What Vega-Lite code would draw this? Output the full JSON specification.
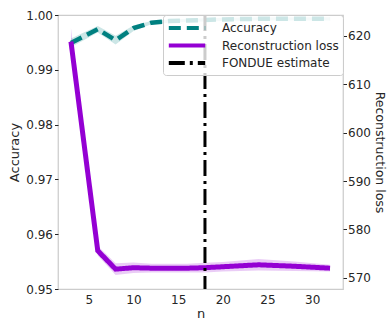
{
  "$schema": "https://vega.github.io/schema/vega-lite/v6.json",
  "width": 285,
  "height": 274,
  "autosize": {"type": "none"},
  "padding": {"left": 58, "top": 15, "right": 46, "bottom": 31},
  "config": {
    "font": "DejaVu Sans",
    "view": {"stroke": "#cccccc", "strokeWidth": 1.25},
    "axis": {
      "domain": false,
      "grid": false,
      "labelFont": "DejaVu Sans",
      "labelFontSize": 12,
      "labelColor": "#262626",
      "titleFont": "DejaVu Sans",
      "titleFontSize": 13,
      "titleFontWeight": "normal",
      "titleColor": "#262626",
      "tickColor": "#262626",
      "tickSize": 3.5,
      "labelPadding": 2
    },
    "legend": {
      "labelFont": "DejaVu Sans",
      "labelFontSize": 12,
      "labelColor": "#262626"
    }
  },
  "datasets": {
    "acc": [
      {"n": 3, "series": "Accuracy", "value": 0.9949, "lo": 0.9941, "hi": 0.9957},
      {"n": 6, "series": "Accuracy", "value": 0.9974, "lo": 0.9968, "hi": 0.9980},
      {"n": 8, "series": "Accuracy", "value": 0.9954, "lo": 0.9946, "hi": 0.9962},
      {"n": 10, "series": "Accuracy", "value": 0.9976, "lo": 0.9971, "hi": 0.9981},
      {"n": 12, "series": "Accuracy", "value": 0.9986, "lo": 0.9983, "hi": 0.9989},
      {"n": 14, "series": "Accuracy", "value": 0.9989, "lo": 0.9986, "hi": 0.9992},
      {"n": 16, "series": "Accuracy", "value": 0.9990, "lo": 0.9987, "hi": 0.9993},
      {"n": 18, "series": "Accuracy", "value": 0.9991, "lo": 0.9988, "hi": 0.9994},
      {"n": 20, "series": "Accuracy", "value": 0.9992, "lo": 0.9989, "hi": 0.9995},
      {"n": 24, "series": "Accuracy", "value": 0.9993, "lo": 0.9990, "hi": 0.9996},
      {"n": 28, "series": "Accuracy", "value": 0.9993, "lo": 0.9990, "hi": 0.9996},
      {"n": 32, "series": "Accuracy", "value": 0.9993, "lo": 0.9990, "hi": 0.9996}
    ],
    "loss": [
      {"n": 3, "series": "Reconstruction loss", "value": 618.8, "lo": 616.0, "hi": 621.6},
      {"n": 6, "series": "Reconstruction loss", "value": 575.6, "lo": 574.6, "hi": 576.6},
      {"n": 8, "series": "Reconstruction loss", "value": 571.8, "lo": 570.6, "hi": 573.0},
      {"n": 10, "series": "Reconstruction loss", "value": 572.1, "lo": 571.0, "hi": 573.2},
      {"n": 12, "series": "Reconstruction loss", "value": 572.0, "lo": 571.1, "hi": 572.9},
      {"n": 14, "series": "Reconstruction loss", "value": 572.0, "lo": 571.1, "hi": 572.9},
      {"n": 16, "series": "Reconstruction loss", "value": 572.0, "lo": 571.1, "hi": 572.9},
      {"n": 18, "series": "Reconstruction loss", "value": 572.1, "lo": 571.1, "hi": 573.1},
      {"n": 20, "series": "Reconstruction loss", "value": 572.3, "lo": 571.3, "hi": 573.3},
      {"n": 24, "series": "Reconstruction loss", "value": 572.7, "lo": 571.5, "hi": 573.9},
      {"n": 28, "series": "Reconstruction loss", "value": 572.4, "lo": 571.4, "hi": 573.4},
      {"n": 32, "series": "Reconstruction loss", "value": 572.0, "lo": 571.3, "hi": 572.7}
    ],
    "fondue": [
      {"n": 18, "series": "FONDUE estimate"}
    ]
  },
  "layer": [
    {
      "layer": [
        {
          "data": {"name": "acc"},
          "mark": {"type": "area", "color": "#008080", "opacity": 0.2},
          "encoding": {
            "x": {"field": "n", "type": "quantitative", "scale": {"domain": [1.55, 33.45], "nice": false, "zero": false}},
            "y": {"field": "lo", "type": "quantitative"},
            "y2": {"field": "hi"}
          }
        },
        {
          "data": {"name": "acc"},
          "mark": {"type": "line", "strokeWidth": 4.5},
          "encoding": {
            "x": {"field": "n", "type": "quantitative", "scale": {"domain": [1.55, 33.45], "nice": false, "zero": false},
              "axis": {"title": "n", "values": [5, 10, 15, 20, 25, 30], "tickSize": 0, "labelPadding": 5, "titlePadding": 2}},
            "y": {"field": "value", "type": "quantitative",
              "scale": {"domain": [0.95, 1.0], "nice": false, "zero": false},
              "axis": {"title": "Accuracy", "orient": "left", "values": [0.95, 0.96, 0.97, 0.98, 0.99, 1.0], "format": ".2f", "titlePadding": 4}},
            "color": {"field": "series", "type": "nominal",
              "scale": {"domain": ["Accuracy", "Reconstruction loss", "FONDUE estimate"], "range": ["#008080", "#9400d3", "#000000"]},
              "legend": {"title": null, "orient": "top-right", "offset": 0, "symbolType": "M-2.6,0H2.6", "symbolSize": 196, "symbolStrokeWidth": 4, "symbolOffset": 11,
                "fillColor": "rgba(255,255,255,0.8)", "strokeColor": "#cccccc", "cornerRadius": 3, "padding": 4, "rowPadding": 0.5, "labelOffset": 26}},
            "strokeDash": {"field": "series", "type": "nominal",
              "scale": {"domain": ["Accuracy", "Reconstruction loss", "FONDUE estimate"], "range": [[12, 6], [1, 0], [16, 5, 3, 5]]},
              "legend": {"title": null, "orient": "top-right", "offset": 0, "symbolType": "M-2.6,0H2.6", "symbolSize": 196, "symbolStrokeWidth": 4, "symbolOffset": 11,
                "fillColor": "rgba(255,255,255,0.8)", "strokeColor": "#cccccc", "cornerRadius": 3, "padding": 4, "rowPadding": 0.5, "labelOffset": 26}}
          }
        }
      ]
    },
    {
      "layer": [
        {
          "data": {"name": "loss"},
          "mark": {"type": "area", "color": "#9400d3", "opacity": 0.2},
          "encoding": {
            "x": {"field": "n", "type": "quantitative"},
            "y": {"field": "lo", "type": "quantitative", "scale": {"domain": [567.7, 624.3], "nice": false, "zero": false}},
            "y2": {"field": "hi"}
          }
        },
        {
          "data": {"name": "loss"},
          "mark": {"type": "line", "strokeWidth": 5},
          "encoding": {
            "x": {"field": "n", "type": "quantitative"},
            "y": {"field": "value", "type": "quantitative",
              "scale": {"domain": [567.7, 624.3], "nice": false, "zero": false},
              "axis": {"title": "Reconstruction loss", "orient": "right", "values": [570, 580, 590, 600, 610, 620], "labelPadding": 1, "titlePadding": 2, "titleFontSize": 12.5}},
            "color": {"field": "series", "type": "nominal"},
            "strokeDash": {"field": "series", "type": "nominal"}
          }
        }
      ]
    },
    {
      "data": {"name": "fondue"},
      "mark": {"type": "rule", "strokeWidth": 3},
      "encoding": {
        "x": {"field": "n", "type": "quantitative"},
        "color": {"field": "series", "type": "nominal"},
        "strokeDash": {"field": "series", "type": "nominal"}
      }
    }
  ],
  "resolve": {"scale": {"y": "independent"}}
}
